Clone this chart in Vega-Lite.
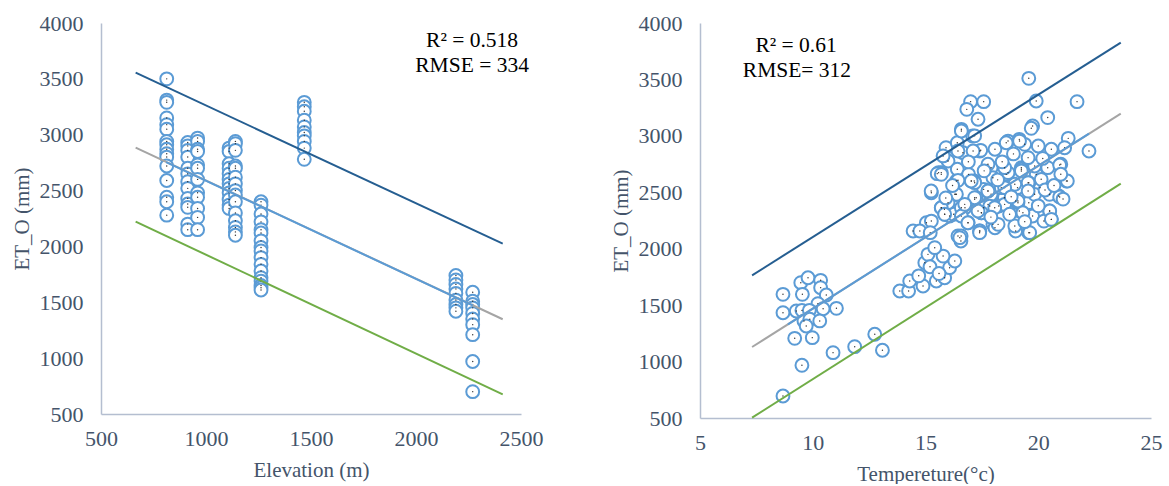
{
  "$schema": "https://vega.github.io/schema/vega-lite/v6.json",
  "background": "white",
  "padding": {"left": 11, "top": 12, "right": 3, "bottom": 0},
  "spacing": 67,
  "config": {
    "view": {"stroke": null},
    "font": "Liberation Serif",
    "axis": {
      "grid": false, "ticks": false, "tickSize": 0,
      "domainColor": "#b4bed0", "domainWidth": 1.5,
      "labelFont": "Liberation Serif", "labelFontSize": 22, "labelColor": "#44546a",
      "titleFont": "Liberation Serif", "titleFontSize": 21, "titleFontWeight": "normal", "titleColor": "#44546a",
      "labelFlush": false, "labelOverlap": false, "format": "d"
    },
    "axisX": {"labelPadding": 14, "titlePadding": 10},
    "axisY": {"labelPadding": 18, "titlePadding": 7}
  },
  "datasets": {
    "left_pts": [
      {"x":813,"y":3500},{"x":813,"y":3310},{"x":813,"y":3290},{"x":813,"y":3150},{"x":813,"y":3090},{"x":813,"y":3050},{"x":813,"y":2940},{"x":813,"y":2910},{"x":813,"y":2870},{"x":813,"y":2830},{"x":813,"y":2800},{"x":813,"y":2720},{"x":813,"y":2590},{"x":813,"y":2440},{"x":813,"y":2400},{"x":813,"y":2280},
      {"x":913,"y":2930},{"x":913,"y":2900},{"x":913,"y":2860},{"x":913,"y":2800},{"x":913,"y":2700},{"x":913,"y":2650},{"x":913,"y":2580},{"x":913,"y":2520},{"x":913,"y":2430},{"x":913,"y":2380},{"x":913,"y":2350},{"x":913,"y":2200},{"x":913,"y":2150},
      {"x":960,"y":2970},{"x":960,"y":2940},{"x":960,"y":2870},{"x":960,"y":2850},{"x":960,"y":2730},{"x":960,"y":2700},{"x":960,"y":2600},{"x":960,"y":2480},{"x":960,"y":2440},{"x":960,"y":2340},{"x":960,"y":2260},{"x":960,"y":2150},
      {"x":1110,"y":2880},{"x":1110,"y":2850},{"x":1110,"y":2740},{"x":1110,"y":2700},{"x":1110,"y":2650},{"x":1110,"y":2600},{"x":1110,"y":2560},{"x":1110,"y":2520},{"x":1110,"y":2480},{"x":1110,"y":2420},{"x":1110,"y":2370},{"x":1110,"y":2340},
      {"x":1140,"y":2940},{"x":1140,"y":2920},{"x":1140,"y":2860},{"x":1140,"y":2720},{"x":1140,"y":2700},{"x":1140,"y":2620},{"x":1140,"y":2560},{"x":1140,"y":2500},{"x":1140,"y":2460},{"x":1140,"y":2400},{"x":1140,"y":2300},{"x":1140,"y":2230},{"x":1140,"y":2170},{"x":1140,"y":2130},{"x":1140,"y":2100},
      {"x":1262,"y":2400},{"x":1262,"y":2370},{"x":1262,"y":2290},{"x":1262,"y":2220},{"x":1262,"y":2150},{"x":1262,"y":2120},{"x":1262,"y":2050},{"x":1262,"y":1990},{"x":1262,"y":1960},{"x":1262,"y":1900},{"x":1262,"y":1840},{"x":1262,"y":1780},{"x":1262,"y":1720},{"x":1262,"y":1690},{"x":1262,"y":1650},{"x":1262,"y":1630},{"x":1262,"y":1610},
      {"x":1468,"y":3290},{"x":1468,"y":3250},{"x":1468,"y":3210},{"x":1468,"y":3130},{"x":1468,"y":3070},{"x":1468,"y":3020},{"x":1468,"y":2990},{"x":1468,"y":2940},{"x":1468,"y":2880},{"x":1468,"y":2780},
      {"x":2190,"y":1740},{"x":2190,"y":1700},{"x":2190,"y":1660},{"x":2190,"y":1620},{"x":2190,"y":1580},{"x":2190,"y":1520},{"x":2190,"y":1480},{"x":2190,"y":1450},{"x":2190,"y":1420},
      {"x":2270,"y":1590},{"x":2270,"y":1510},{"x":2270,"y":1480},{"x":2270,"y":1450},{"x":2270,"y":1400},{"x":2270,"y":1350},{"x":2270,"y":1300},{"x":2270,"y":1210},{"x":2270,"y":970},{"x":2270,"y":700}
    ],
    "right_pts": [
      {"x":8.68,"y":1596},{"x":8.68,"y":1433},{"x":9.47,"y":1699},{"x":9.79,"y":1743},{"x":10.35,"y":1720},{"x":10.35,"y":1655},{"x":9.54,"y":1596},{"x":10.6,"y":1590},{"x":10.23,"y":1513},{"x":9.27,"y":1448},{"x":9.52,"y":1454},{"x":9.85,"y":1454},{"x":10.46,"y":1468},{"x":11.05,"y":1472},{"x":9.61,"y":1360},{"x":9.87,"y":1375},{"x":10.31,"y":1360},{"x":9.71,"y":1315},{"x":9.2,"y":1206},{"x":9.98,"y":1212},{"x":9.52,"y":967},{"x":10.9,"y":1079},{"x":11.86,"y":1132},{"x":12.75,"y":1242},{"x":8.68,"y":695},{"x":13.09,"y":1100},
      {"x":13.86,"y":1625},{"x":14.25,"y":1625},{"x":14.3,"y":1714},{"x":14.89,"y":1670},{"x":15.48,"y":1714},{"x":15.85,"y":1743},{"x":16.07,"y":1832},{"x":16.3,"y":1891},{"x":15.78,"y":1935},{"x":14.97,"y":1876},{"x":15.11,"y":1950},{"x":15.41,"y":2009},{"x":14.45,"y":2157},{"x":15.04,"y":2230},{"x":15.85,"y":2305},{"x":16.44,"y":2113},{"x":15.26,"y":2496},{"x":15.7,"y":2363},{"x":16.3,"y":2482},{"x":16.37,"y":2600},{"x":17.03,"y":2600},{"x":16.89,"y":2230},{"x":17.4,"y":2157},{"x":17.99,"y":2216},{"x":17.48,"y":2319},{"x":17.77,"y":2393},{"x":17.18,"y":2438},{"x":17.92,"y":2467},{"x":16.07,"y":2290},{"x":15.7,"y":2674},{"x":16.57,"y":2068},{"x":14.7,"y":1760},{"x":15.2,"y":1840},{"x":15.6,"y":1780},
      {"x":19.58,"y":3510},{"x":19.91,"y":3309},{"x":21.72,"y":3303},{"x":17.0,"y":3303},{"x":17.58,"y":3303},{"x":16.83,"y":3235},{"x":17.33,"y":3147},{"x":20.42,"y":3162},{"x":19.75,"y":3087},{"x":16.59,"y":3058},{"x":17.09,"y":2999},{"x":21.33,"y":2978},{"x":22.25,"y":2866},{"x":15.91,"y":2895},{"x":16.41,"y":2939},{"x":17.41,"y":2866},{"x":18.08,"y":2881},{"x":18.66,"y":2954},{"x":19.16,"y":2969},{"x":20.0,"y":2910},{"x":20.58,"y":2881},{"x":21.17,"y":2895},{"x":16.0,"y":2777},{"x":15.58,"y":2674},{"x":16.41,"y":2704},{"x":16.91,"y":2659},{"x":17.16,"y":2600},{"x":17.91,"y":2718},{"x":18.58,"y":2659},{"x":19.25,"y":2718},{"x":19.91,"y":2659},{"x":20.42,"y":2718},{"x":21.0,"y":2748},{"x":21.25,"y":2600},{"x":20.91,"y":2467},{"x":20.5,"y":2482},{"x":20.08,"y":2541},{"x":19.58,"y":2585},{"x":19.08,"y":2541},{"x":18.5,"y":2452},{"x":19.0,"y":2423},{"x":19.58,"y":2408},{"x":17.91,"y":2482},{"x":17.58,"y":2526},{"x":17.25,"y":2452},{"x":16.33,"y":2482},{"x":15.25,"y":2511},{"x":16.75,"y":2363},{"x":17.58,"y":2363},{"x":18.25,"y":2378},{"x":19.16,"y":2334},{"x":19.75,"y":2290},{"x":20.5,"y":2334},{"x":20.58,"y":2260},{"x":20.25,"y":2245},{"x":19.0,"y":2157},{"x":19.58,"y":2142},{"x":18.08,"y":2186},{"x":17.41,"y":2157},{"x":16.58,"y":2113},{"x":15.84,"y":2349},{"x":16.25,"y":2305},{"x":14.75,"y":2157},{"x":15.26,"y":2245},
      {"x":19.69,"y":3067},{"x":16.66,"y":2851},{"x":17.45,"y":2872},{"x":19.4,"y":2925},{"x":15.52,"y":2665},{"x":16.44,"y":2606},{"x":17.18,"y":2585},{"x":17.99,"y":2629},{"x":18.66,"y":2674},{"x":19.25,"y":2704},{"x":19.84,"y":2733},{"x":20.95,"y":2742},{"x":21.29,"y":2600},{"x":20.13,"y":2615},{"x":19.55,"y":2585},{"x":18.96,"y":2571},{"x":18.36,"y":2541},{"x":17.77,"y":2511},{"x":17.18,"y":2452},{"x":16.37,"y":2482},{"x":16.0,"y":2408},{"x":15.7,"y":2363},{"x":16.59,"y":2363},{"x":17.85,"y":2378},{"x":18.51,"y":2393},{"x":19.1,"y":2408},{"x":19.84,"y":2482},{"x":20.51,"y":2334},{"x":20.95,"y":2458},{"x":15.85,"y":2305},{"x":16.59,"y":2290},{"x":17.48,"y":2319},{"x":18.22,"y":2216},{"x":18.96,"y":2201},{"x":19.62,"y":2142},{"x":20.58,"y":2260},{"x":17.4,"y":2142},{"x":16.88,"y":2230},{"x":16.52,"y":2098},{"x":15.21,"y":2142},
      {"x":16.59,"y":3043},{"x":17.18,"y":3000},{"x":18.58,"y":2939},{"x":19.17,"y":2954},{"x":15.78,"y":2822},{"x":16.44,"y":2866},{"x":17.11,"y":2866},{"x":17.77,"y":2748},{"x":18.51,"y":2718},{"x":19.25,"y":2689},{"x":19.55,"y":2807},{"x":17.03,"y":2600},{"x":17.77,"y":2511},{"x":18.51,"y":2541},{"x":19.1,"y":2423},{"x":19.55,"y":2511},{"x":16.74,"y":2393},{"x":17.33,"y":2334},{"x":18.07,"y":2363},{"x":18.73,"y":2305},{"x":19.32,"y":2319},{"x":15.7,"y":2659},
      {"x":20.3,"y":2520},{"x":21.1,"y":2440},{"x":20.7,"y":2560},{"x":18.8,"y":2460},{"x":18.2,"y":2610},{"x":17.6,"y":2690},{"x":16.9,"y":2770},{"x":20.2,"y":2800},{"x":18.9,"y":2840},{"x":17.9,"y":2280},{"x":19.4,"y":2240},{"x":20.0,"y":2380},{"x":16.2,"y":2560},{"x":15.9,"y":2450},{"x":21.0,"y":2660},{"x":18.4,"y":2770}
    ],
    "left_lines": [
      {"series":"gray","x":665,"y":2884},{"series":"gray","x":2413,"y":1348},
      {"series":"dark","x":665,"y":3555},{"series":"dark","x":2413,"y":2025},
      {"series":"green","x":665,"y":2222},{"series":"green","x":2413,"y":676},
      {"series":"trend","x":810,"y":2754},{"series":"trend","x":2270,"y":1473}
    ],
    "right_lines": [
      {"series":"gray","x":7.31,"y":1129},{"series":"gray","x":23.66,"y":3197},
      {"series":"dark","x":7.31,"y":1764},{"series":"dark","x":23.66,"y":3826},
      {"series":"green","x":7.31,"y":503},{"series":"green","x":23.66,"y":2576},
      {"series":"trend","x":8.9,"y":1330},{"series":"trend","x":22.25,"y":3019}
    ],
    "left_txt": [
      {"x":2267,"y":3839,"t":"R² = 0.518"},
      {"x":2267,"y":3615,"t":"RMSE = 334"}
    ],
    "right_txt": [
      {"x":9.26,"y":3796,"t":"R² = 0.61"},
      {"x":9.3,"y":3575,"t":"RMSE= 312"}
    ]
  },
  "hconcat": [
    {
      "width": 420,
      "height": 391,
      "encoding": {
        "x": {"field": "x", "type": "quantitative", "scale": {"domain": [500, 2500], "nice": false, "zero": false}, "axis": {"values": [500, 1000, 1500, 2000, 2500], "format": "d", "labelFont": "Liberation Serif", "title": "Elevation (m)"}},
        "y": {"field": "y", "type": "quantitative", "scale": {"domain": [500, 4000], "nice": false, "zero": false}, "axis": {"values": [500, 1000, 1500, 2000, 2500, 3000, 3500, 4000], "format": "d", "labelFont": "Liberation Serif", "title": "ET_O (mm)"}}
      },
      "layer": [
        {"data": {"name": "left_pts"}, "mark": {"type": "point", "shape": "circle", "filled": true, "fill": "white", "stroke": "#5b9bd5", "strokeWidth": 2, "size": 165, "opacity": 1}},
        {"data": {"name": "left_pts"}, "mark": {"type": "point", "shape": "circle", "filled": true, "color": "#333333", "size": 2, "opacity": 1}},
        {"data": {"name": "left_lines"}, "mark": {"type": "line"},
         "encoding": {
           "color": {"field": "series", "type": "nominal", "scale": {"domain": ["gray", "dark", "green", "trend"], "range": ["#a5a5a5", "#255e91", "#70ad47", "#5b9bd5"]}, "legend": null},
           "strokeWidth": {"field": "series", "type": "nominal", "scale": {"domain": ["gray", "dark", "green", "trend"], "range": [2, 2, 2, 2.5]}, "legend": null}
         }},
        {"data": {"name": "left_txt"}, "mark": {"type": "text", "font": "Liberation Serif", "fontSize": 21.5, "color": "#000000", "align": "center", "baseline": "middle"},
         "encoding": {"text": {"field": "t"}}}
      ]
    },
    {
      "width": 451,
      "height": 395,
      "encoding": {
        "x": {"field": "x", "type": "quantitative", "scale": {"domain": [5, 25], "nice": false, "zero": false}, "axis": {"values": [5, 10, 15, 20, 25], "format": "d", "labelFont": "Liberation Serif", "title": "Tempereture(°c)", "titlePadding": 10}},
        "y": {"field": "y", "type": "quantitative", "scale": {"domain": [500, 4000], "nice": false, "zero": false}, "axis": {"values": [500, 1000, 1500, 2000, 2500, 3000, 3500, 4000], "format": "d", "labelFont": "Liberation Serif", "title": "ET_O (mm)"}}
      },
      "layer": [
        {"data": {"name": "right_pts"}, "mark": {"type": "point", "shape": "circle", "filled": true, "fill": "white", "stroke": "#5b9bd5", "strokeWidth": 2, "size": 165, "opacity": 1}},
        {"data": {"name": "right_pts"}, "mark": {"type": "point", "shape": "circle", "filled": true, "color": "#333333", "size": 2, "opacity": 1}},
        {"data": {"name": "right_lines"}, "mark": {"type": "line"},
         "encoding": {
           "color": {"field": "series", "type": "nominal", "scale": {"domain": ["gray", "dark", "green", "trend"], "range": ["#a5a5a5", "#255e91", "#70ad47", "#5b9bd5"]}, "legend": null},
           "strokeWidth": {"field": "series", "type": "nominal", "scale": {"domain": ["gray", "dark", "green", "trend"], "range": [2, 2, 2, 2.5]}, "legend": null}
         }},
        {"data": {"name": "right_txt"}, "mark": {"type": "text", "font": "Liberation Serif", "fontSize": 21.5, "color": "#000000", "align": "center", "baseline": "middle"},
         "encoding": {"text": {"field": "t"}}}
      ]
    }
  ]
}
